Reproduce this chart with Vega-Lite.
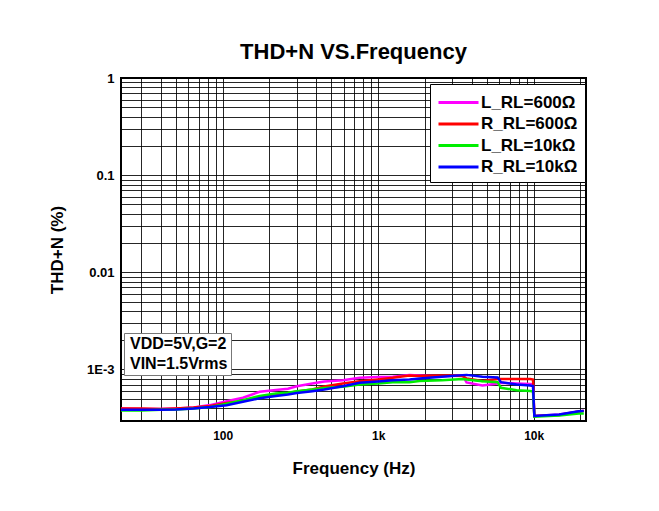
{
  "$schema": "https://vega.github.io/schema/vega-lite/v6.json",
  "width": 465,
  "height": 343,
  "autosize": "none",
  "padding": {"left": 121, "top": 78, "right": 73, "bottom": 90},
  "background": "white",
  "config": {
    "view": {"stroke": "black", "strokeWidth": 2},
    "font": "Liberation Sans"
  },
  "title": {
    "text": "THD+N VS.Frequency",
    "fontSize": 22,
    "fontWeight": "bold",
    "font": "Liberation Sans",
    "anchor": "middle",
    "offset": 8,
    "color": "black"
  },
  "layer": [
    {
      "data": {
        "values": [
          {"s": "L_RL=600Ω", "f": 22.2, "v": 0.000397}, {"s": "L_RL=600Ω", "f": 30, "v": 0.000392}, {"s": "L_RL=600Ω", "f": 40, "v": 0.000392}, {"s": "L_RL=600Ω", "f": 50, "v": 0.000397}, {"s": "L_RL=600Ω", "f": 65, "v": 0.000406}, {"s": "L_RL=600Ω", "f": 83, "v": 0.00043}, {"s": "L_RL=600Ω", "f": 106, "v": 0.000472}, {"s": "L_RL=600Ω", "f": 135, "v": 0.000512}, {"s": "L_RL=600Ω", "f": 173, "v": 0.00059}, {"s": "L_RL=600Ω", "f": 220, "v": 0.000615}, {"s": "L_RL=600Ω", "f": 263, "v": 0.000633}, {"s": "L_RL=600Ω", "f": 300, "v": 0.000672}, {"s": "L_RL=600Ω", "f": 377, "v": 0.000718}, {"s": "L_RL=600Ω", "f": 450, "v": 0.000752}, {"s": "L_RL=600Ω", "f": 593, "v": 0.000775}, {"s": "L_RL=600Ω", "f": 760, "v": 0.00082}, {"s": "L_RL=600Ω", "f": 1000, "v": 0.000837}, {"s": "L_RL=600Ω", "f": 1240, "v": 0.000841}, {"s": "L_RL=600Ω", "f": 1590, "v": 0.000875}, {"s": "L_RL=600Ω", "f": 1840, "v": 0.000868}, {"s": "L_RL=600Ω", "f": 2570, "v": 0.000854}, {"s": "L_RL=600Ω", "f": 3500, "v": 0.000868}, {"s": "L_RL=600Ω", "f": 3700, "v": 0.000735}, {"s": "L_RL=600Ω", "f": 4680, "v": 0.000685}, {"s": "L_RL=600Ω", "f": 5870, "v": 0.000718}, {"s": "L_RL=600Ω", "f": 6160, "v": 0.00073}, {"s": "L_RL=600Ω", "f": 7770, "v": 0.000718}, {"s": "L_RL=600Ω", "f": 9500, "v": 0.00071}, {"s": "L_RL=600Ω", "f": 9900, "v": 0.0007}, {"s": "L_RL=600Ω", "f": 10100, "v": 0.000332}, {"s": "L_RL=600Ω", "f": 14600, "v": 0.000344}, {"s": "L_RL=600Ω", "f": 19500, "v": 0.00037}, {"s": "L_RL=600Ω", "f": 21000, "v": 0.000375},
          {"s": "R_RL=600Ω", "f": 22.2, "v": 0.000397}, {"s": "R_RL=600Ω", "f": 30, "v": 0.000397}, {"s": "R_RL=600Ω", "f": 40, "v": 0.000392}, {"s": "R_RL=600Ω", "f": 50, "v": 0.000397}, {"s": "R_RL=600Ω", "f": 65, "v": 0.000406}, {"s": "R_RL=600Ω", "f": 83, "v": 0.00042}, {"s": "R_RL=600Ω", "f": 106, "v": 0.000452}, {"s": "R_RL=600Ω", "f": 135, "v": 0.000474}, {"s": "R_RL=600Ω", "f": 173, "v": 0.00052}, {"s": "R_RL=600Ω", "f": 220, "v": 0.000553}, {"s": "R_RL=600Ω", "f": 263, "v": 0.000573}, {"s": "R_RL=600Ω", "f": 300, "v": 0.000594}, {"s": "R_RL=600Ω", "f": 377, "v": 0.000622}, {"s": "R_RL=600Ω", "f": 450, "v": 0.000669}, {"s": "R_RL=600Ω", "f": 593, "v": 0.000718}, {"s": "R_RL=600Ω", "f": 760, "v": 0.000757}, {"s": "R_RL=600Ω", "f": 1000, "v": 0.000789}, {"s": "R_RL=600Ω", "f": 1240, "v": 0.00082}, {"s": "R_RL=600Ω", "f": 1590, "v": 0.000868}, {"s": "R_RL=600Ω", "f": 1840, "v": 0.000858}, {"s": "R_RL=600Ω", "f": 2570, "v": 0.000868}, {"s": "R_RL=600Ω", "f": 3500, "v": 0.000858}, {"s": "R_RL=600Ω", "f": 3700, "v": 0.000808}, {"s": "R_RL=600Ω", "f": 4680, "v": 0.00076}, {"s": "R_RL=600Ω", "f": 5870, "v": 0.0008}, {"s": "R_RL=600Ω", "f": 6160, "v": 0.0008}, {"s": "R_RL=600Ω", "f": 7770, "v": 0.0008}, {"s": "R_RL=600Ω", "f": 9500, "v": 0.000798}, {"s": "R_RL=600Ω", "f": 9900, "v": 0.000789}, {"s": "R_RL=600Ω", "f": 10100, "v": 0.000332}, {"s": "R_RL=600Ω", "f": 14600, "v": 0.00034}, {"s": "R_RL=600Ω", "f": 19500, "v": 0.00037}, {"s": "R_RL=600Ω", "f": 21000, "v": 0.000375},
          {"s": "L_RL=10kΩ", "f": 22.2, "v": 0.000379}, {"s": "L_RL=10kΩ", "f": 30, "v": 0.000379}, {"s": "L_RL=10kΩ", "f": 40, "v": 0.000384}, {"s": "L_RL=10kΩ", "f": 50, "v": 0.000388}, {"s": "L_RL=10kΩ", "f": 65, "v": 0.000397}, {"s": "L_RL=10kΩ", "f": 83, "v": 0.00041}, {"s": "L_RL=10kΩ", "f": 106, "v": 0.000444}, {"s": "L_RL=10kΩ", "f": 135, "v": 0.000483}, {"s": "L_RL=10kΩ", "f": 173, "v": 0.000534}, {"s": "L_RL=10kΩ", "f": 220, "v": 0.000566}, {"s": "L_RL=10kΩ", "f": 263, "v": 0.000576}, {"s": "L_RL=10kΩ", "f": 300, "v": 0.000598}, {"s": "L_RL=10kΩ", "f": 377, "v": 0.000622}, {"s": "L_RL=10kΩ", "f": 450, "v": 0.000645}, {"s": "L_RL=10kΩ", "f": 593, "v": 0.000665}, {"s": "L_RL=10kΩ", "f": 760, "v": 0.000701}, {"s": "L_RL=10kΩ", "f": 1000, "v": 0.000718}, {"s": "L_RL=10kΩ", "f": 1240, "v": 0.00074}, {"s": "L_RL=10kΩ", "f": 1590, "v": 0.00074}, {"s": "L_RL=10kΩ", "f": 1840, "v": 0.00076}, {"s": "L_RL=10kΩ", "f": 2570, "v": 0.000775}, {"s": "L_RL=10kΩ", "f": 3500, "v": 0.0008}, {"s": "L_RL=10kΩ", "f": 3700, "v": 0.000789}, {"s": "L_RL=10kΩ", "f": 4680, "v": 0.000757}, {"s": "L_RL=10kΩ", "f": 5870, "v": 0.00074}, {"s": "L_RL=10kΩ", "f": 6160, "v": 0.000648}, {"s": "L_RL=10kΩ", "f": 7770, "v": 0.000613}, {"s": "L_RL=10kΩ", "f": 9500, "v": 0.0006}, {"s": "L_RL=10kΩ", "f": 9900, "v": 0.000594}, {"s": "L_RL=10kΩ", "f": 10100, "v": 0.000327}, {"s": "L_RL=10kΩ", "f": 14600, "v": 0.000336}, {"s": "L_RL=10kΩ", "f": 19500, "v": 0.000353}, {"s": "L_RL=10kΩ", "f": 21000, "v": 0.000353},
          {"s": "R_RL=10kΩ", "f": 22.2, "v": 0.000384}, {"s": "R_RL=10kΩ", "f": 30, "v": 0.000384}, {"s": "R_RL=10kΩ", "f": 40, "v": 0.000384}, {"s": "R_RL=10kΩ", "f": 50, "v": 0.000388}, {"s": "R_RL=10kΩ", "f": 65, "v": 0.000397}, {"s": "R_RL=10kΩ", "f": 83, "v": 0.00041}, {"s": "R_RL=10kΩ", "f": 106, "v": 0.000429}, {"s": "R_RL=10kΩ", "f": 135, "v": 0.000465}, {"s": "R_RL=10kΩ", "f": 173, "v": 0.000506}, {"s": "R_RL=10kΩ", "f": 220, "v": 0.000534}, {"s": "R_RL=10kΩ", "f": 263, "v": 0.000553}, {"s": "R_RL=10kΩ", "f": 300, "v": 0.000573}, {"s": "R_RL=10kΩ", "f": 377, "v": 0.000598}, {"s": "R_RL=10kΩ", "f": 450, "v": 0.000622}, {"s": "R_RL=10kΩ", "f": 593, "v": 0.000672}, {"s": "R_RL=10kΩ", "f": 760, "v": 0.00073}, {"s": "R_RL=10kΩ", "f": 1000, "v": 0.000752}, {"s": "R_RL=10kΩ", "f": 1240, "v": 0.000775}, {"s": "R_RL=10kΩ", "f": 1590, "v": 0.000789}, {"s": "R_RL=10kΩ", "f": 1840, "v": 0.000808}, {"s": "R_RL=10kΩ", "f": 2570, "v": 0.000841}, {"s": "R_RL=10kΩ", "f": 3500, "v": 0.000875}, {"s": "R_RL=10kΩ", "f": 3700, "v": 0.00088}, {"s": "R_RL=10kΩ", "f": 4680, "v": 0.000841}, {"s": "R_RL=10kΩ", "f": 5870, "v": 0.000827}, {"s": "R_RL=10kΩ", "f": 6160, "v": 0.00074}, {"s": "R_RL=10kΩ", "f": 7770, "v": 0.000701}, {"s": "R_RL=10kΩ", "f": 9500, "v": 0.000685}, {"s": "R_RL=10kΩ", "f": 9900, "v": 0.000677}, {"s": "R_RL=10kΩ", "f": 10100, "v": 0.000332}, {"s": "R_RL=10kΩ", "f": 14600, "v": 0.000344}, {"s": "R_RL=10kΩ", "f": 19500, "v": 0.000372}, {"s": "R_RL=10kΩ", "f": 21000, "v": 0.000375}
        ]
      },
      "mark": {"type": "line", "strokeWidth": 2.5, "clip": true},
      "encoding": {
        "x": {
          "field": "f",
          "type": "quantitative",
          "scale": {"type": "log", "domain": [22.2, 21700], "nice": false},
          "axis": {
            "values": [30, 40, 50, 60, 70, 80, 90, 100, 200, 300, 400, 500, 600, 700, 800, 900, 1000, 2000, 3000, 4000, 5000, 6000, 7000, 8000, 9000, 10000, 20000],
            "labelExpr": "datum.value == 100 ? '100' : datum.value == 1000 ? '1k' : datum.value == 10000 ? '10k' : ''",
            "title": "Frequency (Hz)",
            "grid": true,
            "gridColor": "black",
            "gridWidth": 1,
            "gridOpacity": 0.85,
            "ticks": false,
            "domain": false,
            "labelFont": "Liberation Sans",
            "labelFontSize": 12,
            "labelFontWeight": "bold",
            "labelColor": "black",
            "labelPadding": 9,
            "labelOverlap": false,
            "labelFlush": false,
            "titleFont": "Liberation Sans",
            "titleFontSize": 17,
            "titleFontWeight": "bold",
            "titleColor": "black",
            "titlePadding": 19
          }
        },
        "y": {
          "field": "v",
          "type": "quantitative",
          "scale": {"type": "log", "domain": [0.000295, 1], "nice": false},
          "axis": {
            "values": [0.0003, 0.0004, 0.0005, 0.0006, 0.0007, 0.0008, 0.0009, 0.001, 0.002, 0.003, 0.004, 0.005, 0.006, 0.007, 0.008, 0.009, 0.01, 0.02, 0.03, 0.04, 0.05, 0.06, 0.07, 0.08, 0.09, 0.1, 0.2, 0.3, 0.4, 0.5, 0.6, 0.7, 0.8, 0.9, 1],
            "labelExpr": "datum.value == 1 ? '1' : datum.value == 0.1 ? '0.1' : datum.value == 0.01 ? '0.01' : datum.value == 0.001 ? '1E-3' : ''",
            "title": "THD+N (%)",
            "grid": true,
            "gridColor": "black",
            "gridWidth": 1,
            "gridOpacity": 0.85,
            "ticks": false,
            "domain": false,
            "labelFont": "Liberation Sans",
            "labelFontSize": 13,
            "labelFontWeight": "bold",
            "labelColor": "black",
            "labelPadding": 7,
            "labelOverlap": false,
            "labelFlush": false,
            "titleFont": "Liberation Sans",
            "titleFontSize": 17,
            "titleFontWeight": "bold",
            "titleColor": "black",
            "titlePadding": 20
          }
        },
        "color": {
          "field": "s",
          "type": "nominal",
          "scale": {
            "domain": ["L_RL=600Ω", "R_RL=600Ω", "L_RL=10kΩ", "R_RL=10kΩ"],
            "range": ["#ff00ff", "#ff0000", "#00ee00", "#0000ff"]
          },
          "legend": {
            "title": null,
            "orient": "none",
            "legendX": 309,
            "legendY": 6,
            "fillColor": "white",
            "strokeColor": "black",
            "padding": 7,
            "symbolType": "M-1,0H3",
            "symbolSize": 400,
            "symbolStrokeWidth": 3,
            "labelFont": "Liberation Sans",
            "labelFontSize": 17,
            "labelFontWeight": "bold",
            "labelColor": "black",
            "labelOffset": 21,
            "rowPadding": 1.5
          }
        }
      }
    },
    {
      "data": {"values": [{"note": "VDD=5V,G=2"}, {"note": "VIN=1.5Vrms"}]},
      "mark": {"type": "point", "opacity": 0},
      "encoding": {
        "shape": {
          "field": "note",
          "type": "nominal",
          "legend": {
            "title": null,
            "orient": "none",
            "legendX": 3,
            "legendY": 255,
            "fillColor": "white",
            "strokeColor": "#777777",
            "padding": 3,
            "symbolSize": 0,
            "symbolOpacity": 0,
            "symbolStrokeWidth": 0,
            "labelFont": "Liberation Sans",
            "labelFontSize": 16,
            "labelFontWeight": "bold",
            "labelColor": "black",
            "labelOffset": -13,
            "rowPadding": 3.5
          }
        }
      }
    }
  ]
}
